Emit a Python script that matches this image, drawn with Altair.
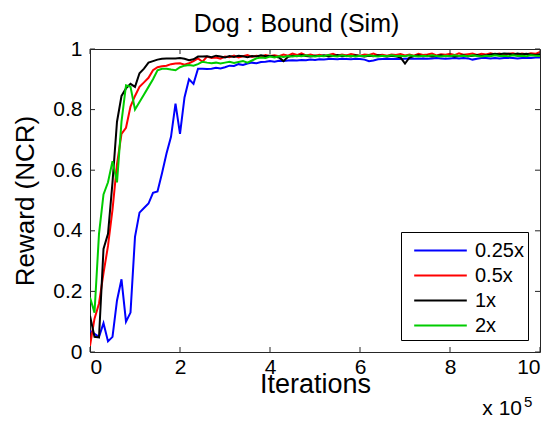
import altair as alt
import pandas as pd

FONT = "Liberation Sans"

chart_title = "Dog : Bound (Sim)"
iterations = [round(0.1 * i, 1) for i in range(101)]  # x 10^5
series_names = ["0.25x", "0.5x", "1x", "2x"]
series_colors = ["#0000ff", "#ff0000", "#000000", "#00cc00"]
x_ticks = [0, 2, 4, 6, 8, 10]
y_ticks = [0, 0.2, 0.4, 0.6, 0.8, 1.0]

reward_025 = [
    0.07, 0.06, 0.05, 0.095, 0.035, 0.05, 0.17, 0.24, 0.10, 0.13,
    0.38, 0.46, 0.475, 0.49, 0.525, 0.53, 0.59, 0.655, 0.71, 0.82,
    0.72, 0.84, 0.90, 0.885, 0.935, 0.935, 0.934, 0.935, 0.938, 0.936,
    0.940, 0.945, 0.944, 0.950, 0.947, 0.952, 0.955, 0.953, 0.957, 0.958,
    0.960, 0.958, 0.961, 0.960, 0.962, 0.963, 0.962, 0.964, 0.963, 0.965,
    0.964, 0.966, 0.965, 0.967, 0.967, 0.966, 0.968, 0.967, 0.966, 0.968,
    0.967, 0.965, 0.960, 0.962, 0.966, 0.967, 0.968, 0.967, 0.968, 0.967,
    0.968, 0.969, 0.968, 0.968, 0.969, 0.968, 0.969, 0.970, 0.969, 0.968,
    0.969, 0.970, 0.969, 0.970, 0.969, 0.965, 0.968, 0.970, 0.970, 0.969,
    0.970, 0.969, 0.970, 0.971, 0.970, 0.969, 0.970, 0.971, 0.970, 0.972,
    0.972,
]
reward_05 = [
    0.02, 0.11, 0.16, 0.26, 0.35, 0.47, 0.62, 0.72, 0.74, 0.81,
    0.845, 0.875, 0.89, 0.905, 0.93, 0.94, 0.943, 0.945, 0.95, 0.952,
    0.953, 0.948, 0.953, 0.96, 0.969, 0.958, 0.975, 0.97, 0.972, 0.968,
    0.975, 0.973, 0.978, 0.972, 0.976, 0.98, 0.974, 0.978, 0.975, 0.98,
    0.977, 0.979, 0.976, 0.982, 0.978, 0.985, 0.98, 0.986, 0.979, 0.982,
    0.978, 0.981, 0.977, 0.98, 0.984, 0.978, 0.982, 0.979, 0.983, 0.98,
    0.978, 0.982, 0.98, 0.985, 0.979, 0.981, 0.978, 0.982, 0.98, 0.983,
    0.979, 0.982, 0.978, 0.984, 0.98, 0.982, 0.985, 0.979, 0.983, 0.981,
    0.984, 0.98, 0.986, 0.981, 0.983, 0.985, 0.98, 0.984, 0.982, 0.986,
    0.983, 0.985, 0.981, 0.984, 0.986, 0.982, 0.985, 0.983, 0.986, 0.984,
    0.99,
]
reward_1 = [
    0.12, 0.05, 0.048, 0.34, 0.39, 0.56, 0.76, 0.845, 0.87, 0.885,
    0.875, 0.92, 0.935, 0.955, 0.96, 0.965, 0.968, 0.969, 0.969, 0.969,
    0.97, 0.968, 0.963, 0.966, 0.975, 0.975, 0.976, 0.973, 0.978, 0.975,
    0.972, 0.977, 0.974, 0.978, 0.976, 0.973, 0.977, 0.975, 0.979, 0.976,
    0.978, 0.975, 0.972, 0.96, 0.974, 0.978, 0.976, 0.98, 0.977, 0.975,
    0.978, 0.976, 0.979, 0.975, 0.977, 0.98, 0.976, 0.978, 0.975, 0.979,
    0.977, 0.975, 0.978, 0.976, 0.979, 0.977, 0.975, 0.978, 0.976, 0.972,
    0.952, 0.972, 0.977, 0.979, 0.976, 0.978, 0.975, 0.977, 0.979, 0.976,
    0.978, 0.975, 0.977, 0.979, 0.976, 0.978, 0.98, 0.977, 0.979, 0.982,
    0.984, 0.983, 0.985, 0.984, 0.982, 0.985, 0.983, 0.984, 0.982, 0.98,
    0.983,
]
reward_2 = [
    0.18, 0.13, 0.39, 0.52, 0.56, 0.63, 0.56, 0.76, 0.88, 0.875,
    0.80, 0.825, 0.85, 0.875, 0.90, 0.93, 0.935, 0.935, 0.932, 0.93,
    0.94, 0.945, 0.947, 0.945, 0.95, 0.958, 0.955, 0.953, 0.955, 0.952,
    0.955, 0.958, 0.954, 0.957, 0.96, 0.955, 0.962, 0.969, 0.972, 0.97,
    0.975, 0.972, 0.976, 0.974, 0.977, 0.975, 0.978, 0.976, 0.979, 0.977,
    0.975, 0.978, 0.976, 0.98, 0.977, 0.975, 0.979, 0.976, 0.978, 0.975,
    0.978, 0.976, 0.979, 0.977, 0.975, 0.978, 0.976, 0.979, 0.977, 0.978,
    0.976, 0.979, 0.977, 0.975, 0.978, 0.976, 0.979, 0.977, 0.975, 0.978,
    0.976, 0.979, 0.977, 0.978, 0.976, 0.979, 0.977, 0.975, 0.978, 0.976,
    0.979, 0.977, 0.978, 0.976, 0.979, 0.977, 0.978, 0.976, 0.979, 0.978,
    0.977,
]

all_series = [reward_025, reward_05, reward_1, reward_2]
rows = []
for name, vals in zip(series_names, all_series):
    for it, r in zip(iterations, vals):
        rows.append({"iter": it, "reward": r, "series": name})
df = pd.DataFrame(rows)

x_scale = alt.Scale(domain=[0, 10], nice=False, zero=False)
y_scale = alt.Scale(domain=[0, 1], nice=False, zero=False)

lines = alt.Chart(df).mark_line(strokeWidth=2, clip=True).encode(
    x=alt.X("iter:Q", scale=x_scale,
            axis=alt.Axis(values=x_ticks, format="d", ticks=False, tickSize=0,
                          domain=False, grid=False, labelFontSize=21, labelFont=FONT,
                          labelColor="black", labelPadding=4,
                          title="Iterations", titleFontSize=27, titleFont=FONT,
                          titleFontWeight="normal", titleColor="black",
                          titleBaseline="alphabetic", titleY=40)),
    y=alt.Y("reward:Q", scale=y_scale,
            axis=alt.Axis(values=y_ticks, format="~g", ticks=False, tickSize=0,
                          domain=False, grid=False, labelFontSize=21, labelFont=FONT,
                          labelColor="black", labelPadding=8,
                          title="Reward (NCR)", titleFontSize=26, titleFont=FONT,
                          titleFontWeight="normal", titleColor="black",
                          titlePadding=14)),
    color=alt.Color("series:N",
                    scale=alt.Scale(domain=series_names, range=series_colors),
                    legend=alt.Legend(title=None, orient="none", legendX=311, legendY=183,
                                      strokeColor="black", fillColor="white", padding=4,
                                      symbolType="M-2,0H2", symbolSize=692,
                                      symbolStrokeWidth=2, symbolOffset=21,
                                      labelFontSize=20, labelFont=FONT, labelColor="black",
                                      labelOffset=20, rowPadding=0)),
)

xt = pd.DataFrame({"t": x_ticks})
yt = pd.DataFrame({"t": y_ticks})
tick_color = "#262626"
xtick_bottom = alt.Chart(xt).mark_rule(color=tick_color, strokeWidth=1).encode(
    x=alt.X("t:Q", scale=x_scale), y=alt.value(303), y2=alt.value(298))
xtick_top = alt.Chart(xt).mark_rule(color=tick_color, strokeWidth=1).encode(
    x=alt.X("t:Q", scale=x_scale), y=alt.value(0), y2=alt.value(5))
ytick_left = alt.Chart(yt).mark_rule(color=tick_color, strokeWidth=1).encode(
    y=alt.Y("t:Q", scale=y_scale), x=alt.value(0), x2=alt.value(5))
ytick_right = alt.Chart(yt).mark_rule(color=tick_color, strokeWidth=1).encode(
    y=alt.Y("t:Q", scale=y_scale), x=alt.value(450), x2=alt.value(445))

title_mark = alt.Chart(pd.DataFrame({"t": [chart_title]})).mark_text(
    font=FONT, fontSize=25, align="center", baseline="alphabetic", color="black"
).encode(text="t:N", x=alt.value(206.5), y=alt.value(-17))
exp_base = alt.Chart(pd.DataFrame({"t": ["x 10"]})).mark_text(
    font=FONT, fontSize=21, align="right", baseline="alphabetic", color="black"
).encode(text="t:N", x=alt.value(432), y=alt.value(366))
exp_sup = alt.Chart(pd.DataFrame({"t": ["5"]})).mark_text(
    font=FONT, fontSize=15, align="left", baseline="alphabetic", color="black"
).encode(text="t:N", x=alt.value(434), y=alt.value(358))

chart = alt.layer(
    lines, xtick_bottom, xtick_top, ytick_left, ytick_right,
    title_mark, exp_base, exp_sup
).properties(
    width=450, height=303,
    autosize=alt.AutoSizeParams(type="none"),
    padding={"left": 82, "top": 41, "right": 10, "bottom": 69},
).configure_view(stroke="#262626", strokeWidth=1)

chart.save("out.html", embed_options={"renderer": "svg", "actions": False})
